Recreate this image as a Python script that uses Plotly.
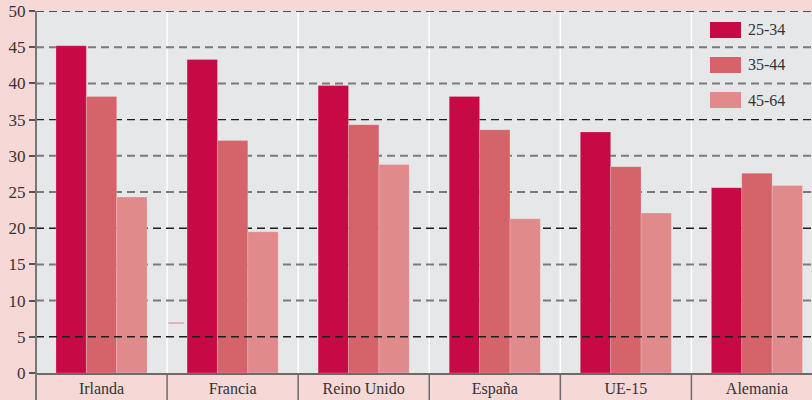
import plotly.graph_objects as go

categories = ["Irlanda", "Francia", "Reino Unido", "España", "UE-15", "Alemania"]
series_names = ["25-34", "35-44", "45-64"]
v_25_34 = [45.2, 43.3, 39.7, 38.2, 33.3, 25.6]
v_35_44 = [38.2, 32.1, 34.3, 33.6, 28.5, 27.6]
v_45_64 = [24.3, 19.5, 28.8, 21.3, 22.1, 25.9]
y_ticks = [0, 5, 10, 15, 20, 25, 30, 35, 40, 45, 50]

colors = ["#C70A45", "#D5636A", "#E08A8C"]
FONT = "Liberation Serif"

fig = go.Figure()
for name, vals, col in zip(series_names, [v_25_34, v_35_44, v_45_64], colors):
    fig.add_trace(go.Bar(x=categories, y=vals, name=name, marker_color=col,
                         marker_line=dict(width=0.8, color="rgba(255,255,255,0.25)"),
                         showlegend=False))

shapes = []
# vertical white separators in plot and dark ones in label band
for i in range(len(categories)):
    xb = i + 0.5
    shapes.append(dict(type="line", xref="x", yref="paper", x0=xb, x1=xb, y0=0, y1=1,
                       line=dict(color="white", width=1.5), layer="below"))
    shapes.append(dict(type="line", xref="x", yref="paper", x0=xb, x1=xb, y0=0, y1=-0.08,
                       line=dict(color="#6b6b6b", width=1.5), layer="above"))
# gridlines
for t in y_ticks[1:]:
    black = t in (5, 20, 35, 50)
    shapes.append(dict(type="line", xref="paper", yref="y", x0=0, x1=1, y0=t, y1=t,
                       line=dict(color="#1e1e1e" if black else "#7a7a7a",
                                 width=1.4 if black else 2, dash="8px,5px"),
                       layer="above" if t == 5 else "below"))
# left axis line extended down through label band
shapes.append(dict(type="line", xref="paper", yref="paper", x0=0, x1=0, y0=-0.08, y1=1,
                   line=dict(color="#777777", width=2), layer="above"))
# stray mark
shapes.append(dict(type="line", xref="x", yref="y", x0=0.51, x1=0.63, y0=6.9, y1=6.9,
                   line=dict(color="#E3A0A4", width=1.5), layer="above"))

# manual legend
annotations = []
for k, (name, col) in enumerate(zip(series_names, colors)):
    top = 22 + 35 * k
    y1 = (373 - top) / 362
    y0 = (373 - (top + 16)) / 362
    shapes.append(dict(type="rect", xref="paper", yref="paper",
                       x0=(710 - 36) / 776, x1=(741 - 36) / 776, y0=y0, y1=y1,
                       fillcolor=col, line=dict(width=0), layer="above"))
    annotations.append(dict(xref="paper", yref="paper", x=(746 - 36) / 776, y=(y0 + y1) / 2,
                            text=name, showarrow=False, xanchor="left", yanchor="middle",
                            font=dict(family=FONT, size=16, color="#333333")))

fig.update_layout(
    width=812, height=400,
    margin=dict(l=36, r=0, t=11, b=27, autoexpand=False),
    paper_bgcolor="#F6D8D7", plot_bgcolor="#E6E7E9",
    barmode="group", bargap=0.305, bargroupgap=0,
    font=dict(family=FONT, size=16, color="#333333"),
    shapes=shapes, annotations=annotations,
    xaxis=dict(type="category", range=[-0.5, 5.42], showgrid=False, ticks="",
               automargin=False,
               showline=True, linecolor="#6b6b6b", linewidth=1.5,
               tickfont=dict(family=FONT, size=16, color="#333333")),
    yaxis=dict(range=[0, 50], tickvals=y_ticks, showgrid=False, zeroline=False,
               automargin=False,
               ticks="outside", ticklen=6, tickcolor="#555555", tickwidth=1.5,
               showline=False,
               tickfont=dict(family=FONT, size=17, color="#333333")),
)

fig.write_html("out.html", config={"displayModeBar": False},
               post_script="document.body.style.margin='0px';document.body.style.overflow='hidden';")
